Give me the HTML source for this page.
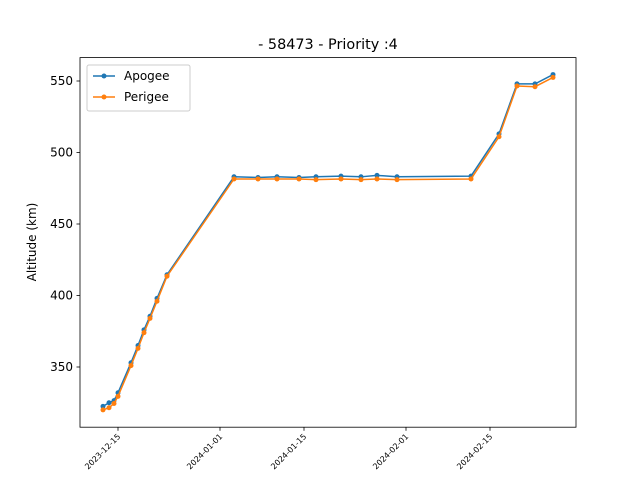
<!DOCTYPE html>
<html><head><meta charset="utf-8"><style>
body{margin:0;background:#fff;font-family:"Liberation Sans","DejaVu Sans",sans-serif}
svg text{font-family:"DejaVu Sans","Liberation Sans",sans-serif}
</style></head><body>
<svg id="chart" width="640" height="480" viewBox="0 0 640 480" xmlns="http://www.w3.org/2000/svg">
<rect width="640" height="480" fill="#fff"/>
<text x="328" y="49" font-size="14.4" text-anchor="middle">- 58473 - Priority :4</text>
<text transform="translate(36,242) rotate(-90)" font-size="12" text-anchor="middle">Altitude (km)</text>
<g id="plot"></g>
<rect x="80" y="57.6" width="496" height="369.6" fill="none" stroke="#000" stroke-width="0.8"/>
<g id="axes"></g>
<g>
<rect x="87" y="65" width="103" height="46" fill="#fff" stroke="#ccc" rx="2"/>
<line x1="93" y1="76" x2="115" y2="76" stroke="#1f77b4" stroke-width="1.5"/><circle cx="104" cy="76" r="2.5" fill="#1f77b4"/>
<text x="124" y="80" font-size="12">Apogee</text>
<line x1="93" y1="97" x2="115" y2="97" stroke="#ff7f0e" stroke-width="1.5"/><circle cx="104" cy="97" r="2.5" fill="#ff7f0e"/>
<text x="124" y="101" font-size="12">Perigee</text>
</g>
</svg>
<script>
const dates=["2023-12-12T12:00","2023-12-13T12:00","2023-12-14T08:00","2023-12-15T00:00","2023-12-17T04:00","2023-12-18T08:00","2023-12-19T08:00","2023-12-20T08:00","2023-12-21T12:00","2023-12-23T04:00","2024-01-03T08:00","2024-01-07T08:00","2024-01-10T12:00","2024-01-14T04:00","2024-01-17T00:00","2024-01-21T04:00","2024-01-24T12:00","2024-01-27T04:00","2024-01-30T12:00","2024-02-11T20:00","2024-02-16T12:00","2024-02-19T12:00","2024-02-22T12:00","2024-02-25T12:00"];
const apogee=[322.5,325,326.5,332,353,365,376,385.5,398,414.5,483,482.5,483,482.5,483,483.5,483,484,483,483.5,513,548,548,554.5];
const perigee=[320,321.5,324.5,329.5,351,363,374,384,396,413.5,481.5,481.5,481.5,481.5,481,481.5,481,481.5,481,481.5,511,546.5,546,552.5];
const yTicks=[350,400,450,500,550];
const xTicks=["2023-12-15","2024-01-01","2024-01-15","2024-02-01","2024-02-15"];
const NS="http://www.w3.org/2000/svg";
const t0=Date.parse("2023-12-15T00:00Z");
function xs(d){const t=Date.parse(d.length>10?d+"Z":d+"T00:00Z");return 118+(t-t0)/86400000*6;}
function ys(v){return 367-(v-350)*1.43;}
const plot=document.getElementById("plot"),axes=document.getElementById("axes");
function mk(tag,attrs,parent){const e=document.createElementNS(NS,tag);for(const k in attrs)e.setAttribute(k,attrs[k]);parent.appendChild(e);return e;}
function series(vals,color,name){
  const pts=vals.map((v,i)=>xs(dates[i])+","+ys(v)).join(" ");
  const l=mk("polyline",{points:pts,fill:"none",stroke:color,"stroke-width":1.5},plot);
  
  
  vals.forEach((v,i)=>{const c=mk("circle",{cx:xs(dates[i]),cy:ys(v),r:2.5,fill:color},plot);
    
    });
}
series(apogee,"#1f77b4","apogee");
series(perigee,"#ff7f0e","perigee");
yTicks.forEach(v=>{const y=ys(v);
  const t=mk("line",{x1:76.5,x2:80,y1:y,y2:y,stroke:"#000","stroke-width":0.8},axes);
  
  
  const tx=mk("text",{x:73,y:y+4,"font-size":12,"text-anchor":"end"},axes);tx.textContent=v;
  
  });
xTicks.forEach(d=>{const x=xs(d);
  const t=mk("line",{x1:x,x2:x,y1:427.2,y2:430.7,stroke:"#000","stroke-width":0.8},axes);
  
  
  const tx=mk("text",{transform:"translate("+(x+3)+",437) rotate(-45)","font-size":8,"text-anchor":"end"},axes);tx.textContent=d;
  
  });
</script>
</body></html>
